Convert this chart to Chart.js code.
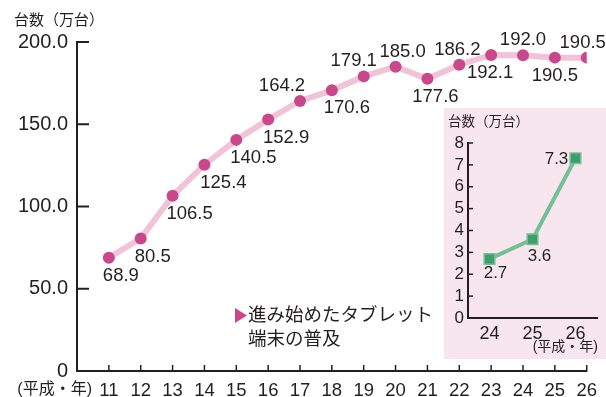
<!DOCTYPE html>
<html>
<head>
<meta charset="utf-8">
<script src="https://cdn.jsdelivr.net/npm/chart.js@4.4.0/dist/chart.umd.min.js"></script>
<style>
  body { margin: 0; background: #fff; }
  #wrap { position: relative; width: 606px; height: 397px; }
  #main { position: absolute; left: 0; top: 0; }
  #inset { position: absolute; left: 444px; top: 108px; background: #f8e6ee; }
</style>
</head>
<body>
<div id="wrap">
  <canvas id="main" width="606" height="397"></canvas>
  <canvas id="inset" width="162" height="251"></canvas>
</div>
<script>
// data
const years = [11, 12, 13, 14, 15, 16, 17, 18, 19, 20, 21, 22, 23, 24, 25, 26];
const units = [68.9, 80.5, 106.5, 125.4, 140.5, 152.9, 164.2, 170.6, 179.1, 185.0, 177.6, 186.2, 192.1, 192.0, 190.5, 190.5];
const mainTicks = [0, 50, 100, 150, 200];

const tabletYears = ["24", "25", "26"];
const tablets = [2.7, 3.6, 7.3];
const insetTicks = [0, 1, 2, 3, 4, 5, 6, 7, 8];

// label placement (t = above, b = below) and small x nudges
const unitSide = ["b", "b", "b", "b", "b", "b", "t", "b", "t", "t", "b", "t", "b", "t", "b", "t"];
const unitShift = [12, 12, 17, 19, 17, 18, -18, 15, -10, 7, 8, -2, -1, 0, 0, -4];
const tabletShift = [[6, 14], [7, 17], [-19, 1]];

const INK = "#231f20";
const PINK = "#f1c3d7";
const MAG = "#c8488b";
const FONT = "'Liberation Sans', Arial, 'Noto Sans CJK JP', sans-serif";

function line(ctx, x1, y1, x2, y2) {
  ctx.beginPath();
  ctx.moveTo(x1, y1);
  ctx.lineTo(x2, y2);
  ctx.stroke();
}

const mainDeco = {
  id: "mainDeco",
  afterDraw(chart) {
    const { ctx, chartArea: a, scales: { x, y } } = chart;
    ctx.save();
    ctx.strokeStyle = INK;
    ctx.lineWidth = 2;
    y.ticks.forEach((t) => {
      if (t.value === 0) return;
      const py = y.getPixelForValue(t.value);
      line(ctx, a.left, py, a.left + 12, py);
    });
    ctx.lineWidth = 1.5;
    x.ticks.forEach((t) => {
      if (t.value === 10) return;
      const px = x.getPixelForValue(t.value);
      line(ctx, px, a.bottom + 1, px, a.bottom - 6);
    });

    // labels on points
    const meta = chart.getDatasetMeta(0);
    ctx.fillStyle = INK;
    ctx.font = "18.5px " + FONT;
    ctx.textAlign = "center";
    ctx.textBaseline = "middle";
    meta.data.forEach((p, i) => {
      const dy = unitSide[i] === "t" ? -15 : 18;
      ctx.fillText(units[i].toFixed(1), p.x + unitShift[i], p.y + dy);
    });

    // titles
    ctx.textAlign = "left";
    ctx.font = "15px " + FONT;
    ctx.fillText("台数（万台）", 14, 21);
    ctx.textAlign = "right";
    ctx.font = "16px " + FONT;
    ctx.fillText("(平成・年)", 92, 390);

    // note
    ctx.fillStyle = MAG;
    ctx.beginPath();
    ctx.moveTo(235, 308);
    ctx.lineTo(247, 315.5);
    ctx.lineTo(235, 323);
    ctx.closePath();
    ctx.fill();
    ctx.fillStyle = INK;
    ctx.textAlign = "left";
    ctx.font = "18.5px " + FONT;
    ctx.fillText("進み始めたタブレット", 248, 316);
    ctx.fillText("端末の普及", 248, 340);
    ctx.restore();
  },
};

const insetDeco = {
  id: "insetDeco",
  afterDraw(chart) {
    const { ctx, chartArea: a, scales: { y } } = chart;
    ctx.save();
    ctx.strokeStyle = INK;
    ctx.lineWidth = 1.5;
    y.ticks.forEach((t) => {
      if (t.value === 0) return;
      const py = y.getPixelForValue(t.value);
      line(ctx, a.left, py, a.left + 5, py);
    });

    const meta = chart.getDatasetMeta(0);
    ctx.fillStyle = INK;
    ctx.font = "17px " + FONT;
    ctx.textAlign = "center";
    ctx.textBaseline = "middle";
    meta.data.forEach((p, i) => {
      ctx.fillText(tablets[i].toFixed(1), p.x + tabletShift[i][0], p.y + tabletShift[i][1]);
    });

    ctx.textAlign = "left";
    ctx.font = "13.5px " + FONT;
    ctx.fillText("台数（万台）", 4, 14);
    ctx.textAlign = "right";
    ctx.font = "14px " + FONT;
    ctx.fillText("(平成・年)", 154, 239);
    ctx.restore();
  },
};

new Chart(document.getElementById("main"), {
  type: "line",
  data: {
    datasets: [
      {
        data: years.map((yr, i) => ({ x: yr, y: units[i] })),
        borderColor: PINK,
        borderWidth: 6,
        pointRadius: 6,
        pointBackgroundColor: MAG,
        pointBorderWidth: 0,
        tension: 0,
      },
    ],
  },
  options: {
    responsive: false,
    animation: false,
    layout: { padding: { top: 42, right: 18, left: 0, bottom: 0 } },
    plugins: { legend: { display: false }, tooltip: { enabled: false } },
    scales: {
      x: {
        type: "linear",
        min: 10,
        max: 26,
        grid: { display: false, drawTicks: false },
        border: { color: INK, width: 2 },
        ticks: {
          stepSize: 1,
          color: INK,
          padding: 9,
          font: { size: 18.5, family: FONT },
          maxRotation: 0,
          autoSkip: false,
          callback: (v) => (v === 10 ? "" : v),
        },
        afterFit: (s) => { s.height = 26; },
      },
      y: {
        min: 0,
        max: 200,
        afterBuildTicks: (s) => { s.ticks = mainTicks.map((v) => ({ value: v })); },
        grid: { display: false, drawTicks: false },
        border: { color: INK, width: 2 },
        ticks: {
          color: INK,
          padding: 9,
          autoSkip: false,
          font: { size: 20, family: FONT },
          callback: (v) => (v === 0 ? "0" : v.toFixed(1)),
        },
        afterFit: (s) => { s.width = 77; },
      },
    },
  },
  plugins: [mainDeco],
});

new Chart(document.getElementById("inset"), {
  type: "line",
  data: {
    labels: tabletYears,
    datasets: [
      {
        data: tablets,
        borderColor: "#74c095",
        borderWidth: 4,
        pointStyle: "rect",
        pointRadius: 7.5,
        pointBackgroundColor: "#3f9e6a",
        pointBorderColor: "#74c095",
        pointBorderWidth: 1.5,
        tension: 0,
      },
    ],
  },
  options: {
    responsive: false,
    animation: false,
    layout: { padding: { top: 35, right: 8, left: 0, bottom: 0 } },
    plugins: { legend: { display: false }, tooltip: { enabled: false } },
    scales: {
      x: {
        offset: true,
        grid: { display: false, drawTicks: false },
        border: { color: INK, width: 2 },
        ticks: { color: INK, padding: 5, font: { size: 18, family: FONT }, maxRotation: 0 },
        afterFit: (s) => { s.height = 41; },
      },
      y: {
        min: 0,
        max: 8,
        afterBuildTicks: (s) => { s.ticks = insetTicks.map((v) => ({ value: v })); },
        grid: { display: false, drawTicks: false },
        border: { color: INK, width: 2 },
        ticks: { color: INK, padding: 4, autoSkip: false, font: { size: 17, family: FONT } },
        afterFit: (s) => { s.width = 24; },
      },
    },
  },
  plugins: [insetDeco],
});
</script>
</body>
</html>
